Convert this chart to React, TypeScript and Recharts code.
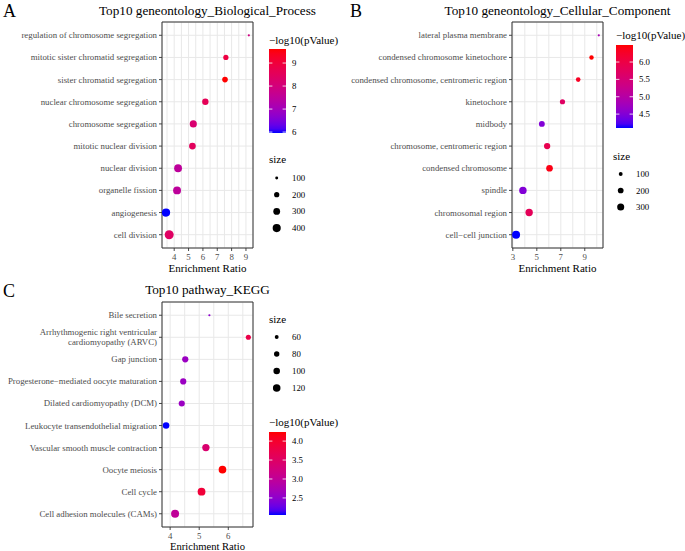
import React from 'react';
import { ScatterChart, Scatter, XAxis, YAxis, ZAxis, CartesianGrid, ReferenceArea } from 'recharts';

const FONT = '"Liberation Serif", "Times New Roman", serif';

// ---------- Panel A: Biological Process ----------
const aTerms = [
  'regulation of chromosome segregation',
  'mitotic sister chromatid segregation',
  'sister chromatid segregation',
  'nuclear chromosome segregation',
  'chromosome segregation',
  'mitotic nuclear division',
  'nuclear division',
  'organelle fission',
  'angiogenesis',
  'cell division',
];
const aRatio = [9.2, 7.6, 7.54, 6.17, 5.33, 5.27, 4.27, 4.2, 3.43, 3.65];
const aSize = [80, 198, 220, 267, 320, 293, 380, 385, 411, 480];
const aLogP = [7.9, 8.9, 9.61, 8.6, 8.2, 8.5, 7.5, 7.5, 5.96, 8.4];
const aXTicks = [3.5, 4, 4.5, 5, 5.5, 6, 6.5, 7, 7.5, 8, 8.5, 9];
const aXLabels = [4, 5, 6, 7, 8, 9];
const aSizeBreaks = [100, 200, 300, 400];
const aColorBreaks = [6, 7, 8, 9];

// ---------- Panel B: Cellular Component ----------
const bTerms = [
  'lateral plasma membrane',
  'condensed chromosome kinetochore',
  'condensed chromosome, centromeric region',
  'kinetochore',
  'midbody',
  'chromosome, centromeric region',
  'condensed chromosome',
  'spindle',
  'chromosomal region',
  'cell\u2212cell junction',
];
const bRatio = [10.17, 9.56, 8.45, 7.14, 5.42, 5.86, 6.06, 3.84, 4.36, 3.27];
const bSize = [40, 125, 135, 168, 210, 241, 268, 330, 325, 380];
const bLogP = [4.85, 6.49, 6.3, 5.7, 4.5, 5.9, 6.4, 4.5, 5.8, 4.1];
const bXTicks = [3, 4, 5, 6, 7, 8, 9, 10];
const bXLabels = [3, 5, 7, 9];
const bSizeBreaks = [100, 200, 300];
const bColorBreaks = [4.5, 5.0, 5.5, 6.0];

// ---------- Panel C: KEGG ----------
const cTerms = [
  'Bile secretion',
  'Arrhythmogenic right ventricular\ncardiomyopathy (ARVC)',
  'Gap junction',
  'Progesterone\u2212mediated oocyte maturation',
  'Dilated cardiomyopathy (DCM)',
  'Leukocyte transendothelial migration',
  'Vascular smooth muscle contraction',
  'Oocyte meiosis',
  'Cell cycle',
  'Cell adhesion molecules (CAMs)',
];
const cRatio = [5.35, 6.69, 4.52, 4.45, 4.4, 3.86, 5.23, 5.8, 5.08, 4.17];
const cSize = [45, 76, 94, 93, 92, 100, 115, 122, 126, 130];
const cLogP = [2.5, 3.75, 2.6, 2.6, 2.6, 2.05, 3.4, 4.24, 3.9, 3.0];
const cXTicks = [4, 4.5, 5, 5.5, 6, 6.5];
const cXLabels = [4, 5, 6];
const cSizeBreaks = [60, 80, 100, 120];
const cColorBreaks = [2.5, 3.0, 3.5, 4.0];

// ---------- colour: blue -> red interpolated in CIE Lab ----------
const toLin = (c: number) => {
  c /= 255;
  return c <= 0.04045 ? c / 12.92 : Math.pow((c + 0.055) / 1.055, 2.4);
};
const fromLin = (c: number) => {
  const v = c <= 0.0031308 ? 12.92 * c : 1.055 * Math.pow(c, 1 / 2.4) - 0.055;
  return Math.round(Math.min(1, Math.max(0, v)) * 255);
};
function rgb2lab(rgb: number[]) {
  const R = toLin(rgb[0]), G = toLin(rgb[1]), B = toLin(rgb[2]);
  const X = (0.4124564 * R + 0.3575761 * G + 0.1804375 * B) / 0.95047;
  const Y = 0.2126729 * R + 0.7151522 * G + 0.072175 * B;
  const Z = (0.0193339 * R + 0.119192 * G + 0.9503041 * B) / 1.08883;
  const f = (t: number) => (t > 0.008856 ? Math.cbrt(t) : 7.787 * t + 16 / 116);
  const fx = f(X), fy = f(Y), fz = f(Z);
  return [116 * fy - 16, 500 * (fx - fy), 200 * (fy - fz)];
}
function lab2rgb(lab: number[]) {
  const fy = (lab[0] + 16) / 116;
  const fx = fy + lab[1] / 500;
  const fz = fy - lab[2] / 200;
  const finv = (t: number) => (t * t * t > 0.008856 ? t * t * t : (t - 16 / 116) / 7.787);
  const X = finv(fx) * 0.95047, Y = finv(fy), Z = finv(fz) * 1.08883;
  const R = 3.2404542 * X - 1.5371385 * Y - 0.4985314 * Z;
  const G = -0.969266 * X + 1.8760108 * Y + 0.041556 * Z;
  const B = 0.0556434 * X - 0.2040259 * Y + 1.0572252 * Z;
  return `rgb(${fromLin(R)},${fromLin(G)},${fromLin(B)})`;
}
const LAB_LO = rgb2lab([0, 0, 255]);
const LAB_HI = rgb2lab([255, 0, 0]);
const gradColor = (t: number) => {
  const u = Math.min(1, Math.max(0, t));
  return lab2rgb([0, 1, 2].map((k) => LAB_LO[k] + (LAB_HI[k] - LAB_LO[k]) * u));
};

type Dom = [number, number];

interface PanelCfg {
  id: string;
  terms: string[];
  ratio: number[];
  size: number[];
  logp: number[];
  xTicks: number[];
  xLabels: number[];
  xDomain: Dom;
  zDomain: Dom;
  rRange: Dom;
  cDomain: Dom;
  sizeBreaks: number[];
  colorBreaks: number[];
  colorDigits: number;
}

const panelA: PanelCfg = {
  id: 'a', terms: aTerms, ratio: aRatio, size: aSize, logp: aLogP,
  xTicks: aXTicks, xLabels: aXLabels, xDomain: [3.15, 9.49],
  zDomain: [80, 480], rRange: [1.1, 4.5], cDomain: [5.96, 9.61],
  sizeBreaks: aSizeBreaks, colorBreaks: aColorBreaks, colorDigits: 0,
};
const panelB: PanelCfg = {
  id: 'b', terms: bTerms, ratio: bRatio, size: bSize, logp: bLogP,
  xTicks: bXTicks, xLabels: bXLabels, xDomain: [2.93, 10.52],
  zDomain: [40, 380], rRange: [1.1, 4.0], cDomain: [4.1, 6.49],
  sizeBreaks: bSizeBreaks, colorBreaks: bColorBreaks, colorDigits: 1,
};
const panelC: PanelCfg = {
  id: 'c', terms: cTerms, ratio: cRatio, size: cSize, logp: cLogP,
  xTicks: cXTicks, xLabels: cXLabels, xDomain: [3.72, 6.85],
  zDomain: [45, 130], rRange: [1.1, 4.0], cDomain: [2.05, 4.24],
  sizeBreaks: cSizeBreaks, colorBreaks: cColorBreaks, colorDigits: 1,
};

const radiusFor = (p: PanelCfg, v: number) => {
  const [d0, d1] = p.zDomain;
  const [r0, r1] = p.rRange;
  const t = (v - d0) / (d1 - d0);
  return Math.sqrt(Math.max(0, r0 * r0 + (r1 * r1 - r0 * r0) * t));
};

const AXIS_TEXT = '#4d4d4d';
const AXIS_SIZE = 8.8;

const makeXTick = (labels: number[]) => (props: any) => {
  const { x, y, payload } = props;
  const isMajor = labels.some((m) => Math.abs(m - payload.value) < 1e-9);
  if (!isMajor) return <g />;
  return (
    <g>
      <line x1={x} x2={x} y1={y - 4} y2={y - 1} stroke="#333" strokeWidth={0.9} />
      <text x={x} y={y + 7.5} textAnchor="middle" fontSize={AXIS_SIZE} fill={AXIS_TEXT} fontFamily={FONT}>
        {payload.value}
      </text>
    </g>
  );
};

const makeYTick = (terms: string[]) => (props: any) => {
  const { x, y, payload } = props;
  const idx = terms.length - Math.round(payload.value);
  const label = terms[idx] ?? '';
  const lines = label.split('\n');
  const lh = 9.7;
  const first = 3 - ((lines.length - 1) * lh) / 2;
  return (
    <g>
      <line x1={x + 2} x2={x + 5} y1={y} y2={y} stroke="#333" strokeWidth={0.9} />
      <text x={x} y={y} textAnchor="end" fontSize={AXIS_SIZE} fill={AXIS_TEXT} fontFamily={FONT}>
        {lines.map((l, k) => (
          <tspan key={k} x={x} dy={k === 0 ? first : lh}>
            {l}
          </tspan>
        ))}
      </text>
    </g>
  );
};

const Dot = (props: any) => {
  const r = props.size != null ? Math.sqrt(Math.max(props.size, 0) / Math.PI) : (props.width || 0) / 2;
  return <circle cx={props.cx} cy={props.cy} r={r} fill={props.payload.color} />;
};

interface ChartPos {
  left: number;
  top: number;
  width: number;
  height: number;
  margin: { top: number; right: number; bottom: number; left: number };
  xAxisHeight: number;
}

function Panel({ p, pos }: { p: PanelCfg; pos: ChartPos }) {
  const n = p.terms.length;
  const data = p.terms.map((t, i) => ({
    name: t,
    x: p.ratio[i],
    y: n - i,
    z: p.size[i],
    color: gradColor((p.logp[i] - p.cDomain[0]) / (p.cDomain[1] - p.cDomain[0])),
  }));
  const yTicks = p.terms.map((_, i) => i + 1);
  const [r0, r1] = p.rRange;
  return (
    <div style={{ position: 'absolute', left: pos.left, top: pos.top }}>
      <ScatterChart width={pos.width} height={pos.height} margin={pos.margin}>
        <CartesianGrid stroke="#e8e8e8" strokeWidth={1} />
        <XAxis
          type="number"
          dataKey="x"
          domain={p.xDomain}
          allowDataOverflow
          ticks={p.xTicks}
          interval={0}
          axisLine={false}
          tickLine={false}
          tickSize={3}
          tickMargin={1}
          height={pos.xAxisHeight}
          tick={makeXTick(p.xLabels)}
        />
        <YAxis
          type="number"
          dataKey="y"
          domain={[0.4, n + 0.6]}
          allowDataOverflow
          ticks={yTicks}
          interval={0}
          axisLine={false}
          tickLine={false}
          tickSize={3}
          tickMargin={2}
          width={160}
          tick={makeYTick(p.terms)}
        />
        <ZAxis type="number" dataKey="z" domain={p.zDomain} range={[Math.PI * r0 * r0, Math.PI * r1 * r1]} />
        <ReferenceArea
          x1={p.xDomain[0]}
          x2={p.xDomain[1]}
          y1={0.4}
          y2={n + 0.6}
          fill="none"
          fillOpacity={0}
          stroke="#333333"
          strokeWidth={1}
          ifOverflow="visible"
        />
        <Scatter data={data} shape={Dot} isAnimationActive={false} />
      </ScatterChart>
    </div>
  );
}

function ColorLegend({ p, x, titleY, barY, barH }: { p: PanelCfg; x: number; titleY: number; barY: number; barH: number }) {
  const w = 17;
  const stops = Array.from({ length: 21 }, (_, i) => i / 20);
  const [c0, c1] = p.cDomain;
  const yOf = (v: number) => barY + barH - ((v - c0) / (c1 - c0)) * barH;
  return (
    <g>
      <defs>
        <linearGradient id={`grad-${p.id}`} x1="0" y1="1" x2="0" y2="0">
          {stops.map((s) => (
            <stop key={s} offset={s} stopColor={gradColor(s)} />
          ))}
        </linearGradient>
      </defs>
      <text x={x} y={titleY} fontSize={11} fill="#000" fontFamily={FONT}>
        {'\u2212log10(pValue)'}
      </text>
      <rect x={x} y={barY} width={w} height={barH} fill={`url(#grad-${p.id})`} />
      {p.colorBreaks.map((b) => (
        <g key={b}>
          <line x1={x} x2={x + 3.4} y1={yOf(b)} y2={yOf(b)} stroke="#fff" strokeWidth={0.8} />
          <line x1={x + w - 3.4} x2={x + w} y1={yOf(b)} y2={yOf(b)} stroke="#fff" strokeWidth={0.8} />
          <text x={x + w + 6} y={yOf(b) + 3} fontSize={AXIS_SIZE} fill="#000" fontFamily={FONT}>
            {b.toFixed(p.colorDigits)}
          </text>
        </g>
      ))}
    </g>
  );
}

function SizeLegend({ p, x, titleY, rowY, step }: { p: PanelCfg; x: number; titleY: number; rowY: number; step: number }) {
  return (
    <g>
      <text x={x} y={titleY} fontSize={11} fill="#000" fontFamily={FONT}>
        size
      </text>
      {p.sizeBreaks.map((b, i) => (
        <g key={b}>
          <circle cx={x + 7.7} cy={rowY + i * step} r={radiusFor(p, b)} fill="#000" />
          <text x={x + 23} y={rowY + i * step + 3} fontSize={AXIS_SIZE} fill="#000" fontFamily={FONT}>
            {b}
          </text>
        </g>
      ))}
    </g>
  );
}

export default function App() {
  return (
    <div style={{ position: 'absolute', left: 0, top: 0, width: 685, height: 551, background: '#fff', overflow: 'hidden' }}>
      <Panel
        p={panelA}
        pos={{ left: 0, top: 0, width: 345, height: 280, margin: { top: 22, right: 92, bottom: 0, left: 2 }, xAxisHeight: 32 }}
      />
      <Panel
        p={panelB}
        pos={{ left: 345, top: 0, width: 340, height: 280, margin: { top: 22, right: 82, bottom: 0, left: 7 }, xAxisHeight: 32 }}
      />
      <Panel
        p={panelC}
        pos={{ left: 0, top: 280, width: 345, height: 271, margin: { top: 22, right: 92, bottom: 0, left: 2 }, xAxisHeight: 24 }}
      />
      <svg width={685} height={551} style={{ position: 'absolute', left: 0, top: 0, pointerEvents: 'none' }}>
        {/* panel letters */}
        <text x={3} y={17} fontSize={18} fontFamily={FONT} fill="#000">A</text>
        <text x={350} y={17} fontSize={18} fontFamily={FONT} fill="#000">B</text>
        <text x={3} y={297} fontSize={18} fontFamily={FONT} fill="#000">C</text>
        {/* titles */}
        <text x={207.5} y={14.5} textAnchor="middle" fontSize={13.2} fontFamily={FONT} fill="#000">
          Top10 geneontology_Biological_Process
        </text>
        <text x={557.5} y={14.5} textAnchor="middle" fontSize={13.2} fontFamily={FONT} fill="#000">
          Top10 geneontology_Cellular_Component
        </text>
        <text x={207.5} y={294} textAnchor="middle" fontSize={13.2} fontFamily={FONT} fill="#000">
          Top10 pathway_KEGG
        </text>
        {/* axis titles */}
        <text x={207.5} y={271.5} textAnchor="middle" fontSize={11} fontFamily={FONT} fill="#000">Enrichment Ratio</text>
        <text x={557.5} y={271.5} textAnchor="middle" fontSize={11} fontFamily={FONT} fill="#000">Enrichment Ratio</text>
        <text x={207.5} y={549.5} textAnchor="middle" fontSize={10.6} fontFamily={FONT} fill="#000">Enrichment Ratio</text>
        {/* legends */}
        <ColorLegend p={panelA} x={269} titleY={44} barY={49} barH={84} />
        <SizeLegend p={panelA} x={269} titleY={162.5} rowY={178} step={16.7} />
        <ColorLegend p={panelB} x={616} titleY={39} barY={45} barH={83} />
        <SizeLegend p={panelB} x={613} titleY={159.5} rowY={174} step={16.5} />
        <SizeLegend p={panelC} x={269} titleY={322.5} rowY={337} step={17} />
        <ColorLegend p={panelC} x={269} titleY={426} barY={432} barH={83} />
      </svg>
    </div>
  );
}
